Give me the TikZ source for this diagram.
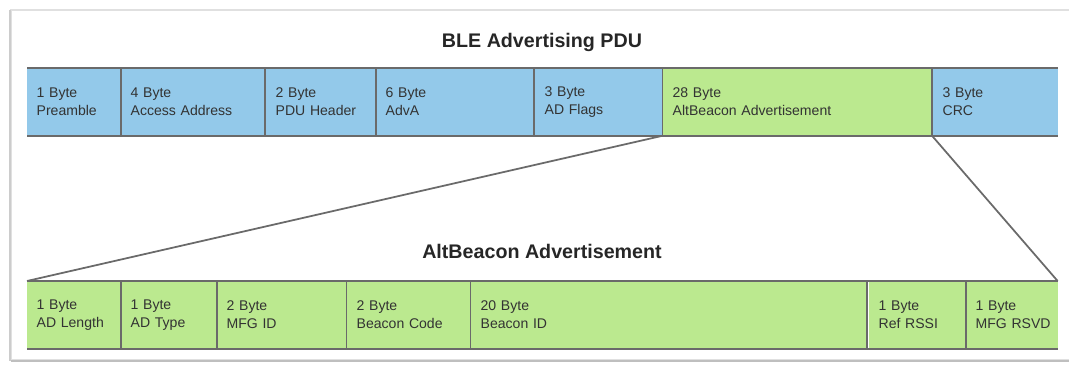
\documentclass[tikz,border=0pt]{standalone}
\usepackage{fontspec}
\setmainfont{Liberation Sans}
\definecolor{advblue}{HTML}{93C9EA}
\definecolor{beacongreen}{HTML}{BBE98F}
\definecolor{edgegray}{HTML}{6A6A6A}
\definecolor{labelgray}{HTML}{333333}
\tikzset{
  field/.style={fill=#1, anchor=north west, inner xsep=5.5pt, inner ysep=0pt,
    outer sep=0pt, minimum height=38.5pt, align=left, text=labelgray,
    font=\fontsize{8}{10.2}\selectfont},
  fw/.style={text width=#1*0.5669pt-11pt},
  barline/.style={draw=edgegray, line width=1.1pt},
  heading/.style={font=\fontsize{11.2}{13}\selectfont\bfseries, text=black!85}
}
\begin{document}
\begin{tikzpicture}[x=0.02cm, y=-0.02cm]
    \useasboundingbox (0, 0) rectangle (1069, 365);
    \begin{scope}
      \clip (0, 0) rectangle (1069, 365);
      \draw[black!12, line width=1.5pt] (11, 10) rectangle (1090, 360);
      \draw[black!25, line width=1pt] (11, 361) -- (1090, 361);
      \draw[black!20, line width=1pt] (10, 10) -- (10, 361);
    \end{scope}
    % BLE advertising PDU
    \node[heading] (pdutitle) at (542, 42) {BLE Advertising PDU};
    \node[field=advblue, fw=94] (pre) at (27, 68) {1 Byte\\Preamble};
    \node[field=advblue, fw=145] (acc) at (121, 68) {4 Byte\\Access Address};
    \node[field=advblue, fw=110] (hdr) at (266, 68) {2 Byte\\PDU Header};
    \node[field=advblue, fw=159] (adva) at (376, 68) {6 Byte\\AdvA};
    \node[field=advblue, fw=128] (flags) at (535, 68) {3 Byte\\AD Flags};
    \node[field=beacongreen, fw=270] (adv) at (663, 68) {28 Byte\\AltBeacon Advertisement};
    \node[field=advblue, fw=125] (crc) at (933, 68) {3 Byte\\CRC};
    \draw[barline] (pre.north west) -- (crc.north east);
    \draw[barline] (pre.south west) -- (crc.south east);
    \draw[barline] (pre.north east) -- (pre.south east);
    \draw[barline] (acc.north east) -- (acc.south east);
    \draw[barline] (hdr.north east) -- (hdr.south east);
    \draw[barline] (adva.north east) -- (adva.south east);
    \draw[barline] (flags.north east) -- (flags.south east);
    \draw[barline] (adv.north east) -- (adv.south east);
    % AltBeacon advertisement
    \node[heading] (beacontitle) at (542, 251) {AltBeacon Advertisement};
    \node[field=beacongreen, fw=94] (len) at (27, 281) {1 Byte\\AD Length};
    \node[field=beacongreen, fw=96] (type) at (121, 281) {1 Byte\\AD Type};
    \node[field=beacongreen, fw=130] (mfg) at (217, 281) {2 Byte\\MFG ID};
    \node[field=beacongreen, fw=124] (code) at (347, 281) {2 Byte\\Beacon Code};
    \node[field=beacongreen, fw=398] (bid) at (471, 281) {20 Byte\\Beacon ID};
    \node[field=beacongreen, fw=97] (rssi) at (869, 281) {1 Byte\\\mbox{Ref RSSI}};
    \node[field=beacongreen, fw=92] (rsvd) at (966, 281) {1 Byte\\\mbox{MFG RSVD}};
    \draw[barline] (len.north west) -- (rsvd.north east);
    \draw[barline] (len.south west) -- (rsvd.south east);
    \draw[barline] (len.north east) -- (len.south east);
    \draw[barline] (type.north east) -- (type.south east);
    \draw[barline] (mfg.north east) -- (mfg.south east);
    \draw[barline] (code.north east) -- (code.south east);
    \draw[barline] (bid.north east) -- (bid.south east);
    \draw[barline] (rssi.north east) -- (rssi.south east);
    % zoom lines
    \draw[edgegray, line width=1pt] (adv.south west) -- (len.north west);
    \draw[edgegray, line width=1pt] (adv.south east) -- (rsvd.north east);
\end{tikzpicture}
\end{document}
